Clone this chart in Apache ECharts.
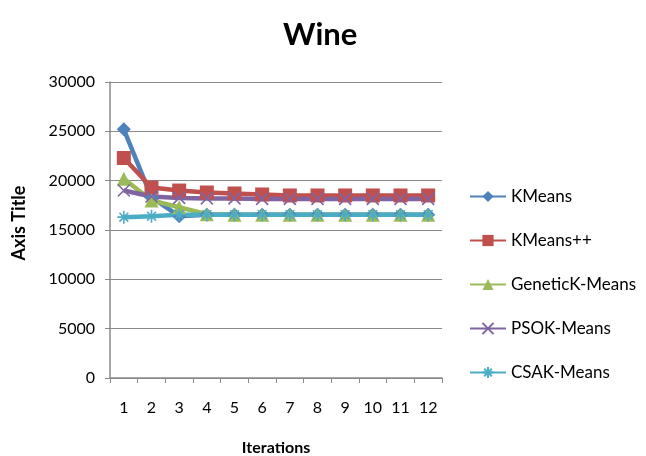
<!DOCTYPE html>
<html>
<head>
<meta charset="utf-8">
<title>Wine</title>
<script src="https://cdn.jsdelivr.net/npm/echarts@6/dist/echarts.min.js"></script>
<style>
  html, body { margin: 0; padding: 0; background: #ffffff; }
  #chart { width: 646px; height: 456px; }
</style>
</head>
<body>
<div id="chart"></div>
<script>
// Iteration numbers on the x axis
const iterations = ['1', '2', '3', '4', '5', '6', '7', '8', '9', '10', '11', '12'];

// Objective value per iteration for each clustering method
const kmeans       = [25200, 18300, 16400, 16550, 16550, 16550, 16550, 16550, 16550, 16550, 16550, 16550];
const kmeansPP     = [22300, 19300, 19000, 18800, 18700, 18600, 18500, 18500, 18500, 18500, 18500, 18500];
const geneticKM    = [20200, 18000, 17300, 16600, 16550, 16550, 16550, 16550, 16550, 16550, 16550, 16550];
const psoKM        = [19000, 18400, 18250, 18200, 18200, 18150, 18150, 18150, 18150, 18150, 18150, 18150];
const csaKM        = [16300, 16400, 16550, 16550, 16550, 16550, 16550, 16550, 16550, 16550, 16550, 16550];

const seriesNames = ['KMeans', 'KMeans++', 'GeneticK-Means', 'PSOK-Means', 'CSAK-Means'];

const FONT = 'Lato, "Open Sans", sans-serif';

// Marker shapes: cross and asterisk are stroked paths
const crossPath = 'path://M0,0L10,10M10,0L0,10';
const starPath  = 'path://M0,5L10,5M5,0L5,10M1.6,1.6L8.4,8.4M8.4,1.6L1.6,8.4';

function lineSeries(name, data, color, symbol, size, stroked) {
  return {
    name: name,
    type: 'line',
    data: data,
    symbol: symbol,
    symbolSize: size,
    showAllSymbol: true,
    lineStyle: { color: color, width: 4.5 },
    itemStyle: stroked
      ? { color: 'rgba(0,0,0,0)', borderColor: color, borderWidth: 1.6 }
      : { color: color, borderColor: color, borderWidth: 0 },
    emphasis: { disabled: true },
    animation: false
  };
}

const chart = echarts.init(document.getElementById('chart'), null, { renderer: 'canvas' });

chart.setOption({
  backgroundColor: '#ffffff',
  animation: false,
  color: ['#4F81BD', '#C0504D', '#9BBB59', '#8064A2', '#4BACC6'],
  title: {
    text: 'Wine',
    left: 278,
    top: 14,
    textStyle: { fontFamily: FONT, fontSize: 31, fontWeight: 'bold', color: '#000' }
  },
  grid: { left: 110, right: 204, top: 82, bottom: 78, containLabel: false, outerBoundsMode: 'none' },
  legend: {
    orient: 'vertical',
    left: 464,
    top: 183,
    itemWidth: 36,
    itemHeight: 14,
    itemGap: 27,
    data: seriesNames,
    textStyle: { fontFamily: FONT, fontSize: 17, color: '#000' }
  },
  xAxis: {
    type: 'category',
    data: iterations,
    boundaryGap: true,
    name: 'Iterations',
    nameLocation: 'middle',
    nameGap: 62,
    nameTextStyle: { fontFamily: FONT, fontSize: 16, fontWeight: 'bold', color: '#000' },
    axisLine: { lineStyle: { color: '#8a8a8a', width: 1.5 } },
    axisTick: { show: true, alignWithLabel: false, length: 5, lineStyle: { color: '#8a8a8a' } },
    axisLabel: { fontFamily: FONT, fontSize: 16, color: '#000', margin: 22 },
    splitLine: { show: false }
  },
  yAxis: {
    type: 'value',
    min: 0,
    max: 30000,
    interval: 5000,
    name: 'Axis Title',
    nameLocation: 'middle',
    nameGap: 82,
    nameRotate: 90,
    nameTextStyle: { fontFamily: FONT, fontSize: 18, fontWeight: 'bold', color: '#000', padding: [0, 0, 0, 14] },
    axisLine: { show: true, lineStyle: { color: '#8a8a8a', width: 1.5 } },
    axisTick: { show: true, length: 5, lineStyle: { color: '#8a8a8a' } },
    axisLabel: { fontFamily: FONT, fontSize: 16, color: '#000', margin: 15, formatter: v => String(v) },
    splitLine: { show: true, lineStyle: { color: '#8a8a8a', width: 1.2 } }
  },
  series: [
    lineSeries(seriesNames[0], kmeans, '#4F81BD', 'diamond', 14, false),
    lineSeries(seriesNames[1], kmeansPP, '#C0504D', 'rect', 14, false),
    lineSeries(seriesNames[2], geneticKM, '#9BBB59', 'triangle', 14, false),
    lineSeries(seriesNames[3], psoKM, '#8064A2', crossPath, 12, true),
    lineSeries(seriesNames[4], csaKM, '#4BACC6', starPath, 13, true)
  ]
});
</script>
</body>
</html>
